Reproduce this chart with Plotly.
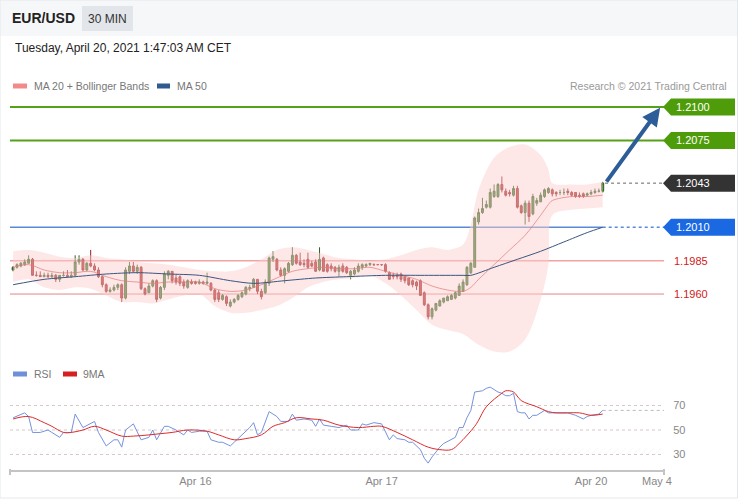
import plotly.graph_objects as go

# ---------------- data ----------------
BAR_INDEX = list(range(153))
OPEN = [1.1978,1.1980,1.1981,1.1982,1.1983,1.1986,1.1974,1.1974,1.1973,1.1974,
        1.1973,1.1974,1.1971,1.1974,1.1974,1.1973,1.1974,1.1984,1.1986,1.1978,
        1.1983,1.1981,1.1978,1.1973,1.1967,1.1962,1.1963,1.1965,1.1967,1.1957,
        1.1977,1.1981,1.1977,1.1980,1.1964,1.1961,1.1966,1.1970,1.1957,1.1965,
        1.1974,1.1977,1.1972,1.1973,1.1969,1.1965,1.1969,1.1969,1.1968,1.1969,
        1.1968,1.1968,1.1963,1.1961,1.1956,1.1958,1.1951,1.1954,1.1956,1.1958,
        1.1960,1.1964,1.1965,1.1971,1.1962,1.1961,1.1968,1.1986,1.1986,1.1978,
        1.1974,1.1977,1.1982,1.1989,1.1984,1.1983,1.1986,1.1983,1.1984,1.1978,
        1.1987,1.1982,1.1981,1.1980,1.1977,1.1981,1.1980,1.1974,1.1975,1.1977,
        1.1980,1.1981,1.1982,1.1982,1.1982,1.1982,1.1982,1.1976,1.1974,1.1974,
        1.1975,1.1973,1.1972,1.1970,1.1969,1.1970,1.1961,1.1952,1.1943,1.1948,
        1.1951,1.1954,1.1955,1.1956,1.1957,1.1959,1.1962,1.1967,1.1976,1.1980,
        1.2014,1.2021,1.2025,1.2025,1.2033,1.2033,1.2042,1.2037,1.2036,1.2034,
        1.2039,1.2026,1.2021,1.2028,1.2020,1.2028,1.2029,1.2033,1.2036,1.2038,
        1.2036,1.2036,1.2036,1.2037,1.2036,1.2036,1.2034,1.2035,1.2034,1.2035,
        1.2036,1.2037,1.2037]
HIGH = [1.1981,1.1983,1.1984,1.1986,1.1989,1.1987,1.1977,1.1977,1.1976,1.1976,
        1.1976,1.1975,1.1974,1.1977,1.1978,1.1977,1.1989,1.1989,1.1987,1.1984,
        1.1993,1.1983,1.1980,1.1974,1.1968,1.1965,1.1967,1.1968,1.1968,1.1980,
        1.1984,1.1984,1.1982,1.1981,1.1965,1.1968,1.1971,1.1971,1.1966,1.1977,
        1.1978,1.1977,1.1975,1.1974,1.1971,1.1971,1.1971,1.1970,1.1971,1.1970,
        1.1976,1.1969,1.1964,1.1963,1.1960,1.1959,1.1956,1.1957,1.1960,1.1962,
        1.1966,1.1967,1.1972,1.1971,1.1964,1.1971,1.1988,1.1992,1.1987,1.1980,
        1.1980,1.1984,1.1995,1.1990,1.1991,1.1986,1.1991,1.1985,1.1986,1.1995,
        1.1988,1.1983,1.1983,1.1981,1.1982,1.1983,1.1981,1.1978,1.1980,1.1983,
        1.1983,1.1983,1.1983,1.1983,1.1982,1.1982,1.1983,1.1977,1.1976,1.1976,
        1.1976,1.1974,1.1972,1.1971,1.1970,1.1971,1.1962,1.1953,1.1950,1.1953,
        1.1956,1.1957,1.1959,1.1960,1.1962,1.1968,1.1971,1.1981,1.1984,1.2018,
        1.2024,1.2032,1.2030,1.2039,1.2042,1.2043,1.2048,1.2039,1.2038,1.2041,
        1.2041,1.2027,1.2030,1.2030,1.2035,1.2032,1.2036,1.2039,1.2040,1.2039,
        1.2037,1.2038,1.2039,1.2039,1.2037,1.2036,1.2036,1.2036,1.2036,1.2038,
        1.2039,1.2039,1.2044]
LOW = [1.1977,1.1979,1.1980,1.1981,1.1983,1.1974,1.1973,1.1973,1.1973,1.1972,
       1.1972,1.1969,1.1969,1.1973,1.1973,1.1972,1.1973,1.1982,1.1977,1.1977,
       1.1980,1.1977,1.1972,1.1965,1.1961,1.1961,1.1962,1.1963,1.1954,1.1956,
       1.1975,1.1976,1.1975,1.1963,1.1959,1.1961,1.1965,1.1954,1.1956,1.1963,
       1.1971,1.1968,1.1967,1.1966,1.1964,1.1964,1.1967,1.1967,1.1967,1.1967,
       1.1967,1.1962,1.1954,1.1954,1.1955,1.1951,1.1950,1.1953,1.1955,1.1957,
       1.1959,1.1962,1.1965,1.1960,1.1956,1.1960,1.1966,1.1984,1.1977,1.1973,
       1.1968,1.1976,1.1981,1.1982,1.1981,1.1980,1.1979,1.1980,1.1977,1.1977,
       1.1977,1.1976,1.1977,1.1976,1.1973,1.1976,1.1975,1.1971,1.1974,1.1976,
       1.1978,1.1980,1.1981,1.1981,1.1982,1.1981,1.1976,1.1971,1.1971,1.1971,
       1.1969,1.1968,1.1966,1.1965,1.1963,1.1959,1.1951,1.1941,1.1941,1.1947,
       1.1951,1.1953,1.1955,1.1956,1.1956,1.1959,1.1962,1.1966,1.1975,1.1980,
       1.2012,1.2020,1.2024,1.2024,1.2032,1.2032,1.2036,1.2033,1.2033,1.2033,
       1.2024,1.2020,1.2012,1.2014,1.2019,1.2026,1.2029,1.2032,1.2035,1.2033,
       1.2033,1.2034,1.2034,1.2034,1.2033,1.2032,1.2032,1.2032,1.2033,1.2034,
       1.2035,1.2036,1.2036]
CLOSE = [1.1980,1.1982,1.1983,1.1984,1.1986,1.1974,1.1974,1.1973,1.1974,1.1973,
         1.1974,1.1971,1.1974,1.1974,1.1973,1.1974,1.1984,1.1986,1.1978,1.1983,
         1.1981,1.1978,1.1973,1.1967,1.1962,1.1963,1.1965,1.1967,1.1957,1.1978,
         1.1981,1.1977,1.1980,1.1964,1.1960,1.1966,1.1970,1.1956,1.1965,1.1975,
         1.1977,1.1970,1.1969,1.1968,1.1966,1.1970,1.1968,1.1968,1.1969,1.1968,
         1.1969,1.1963,1.1956,1.1956,1.1959,1.1953,1.1954,1.1956,1.1959,1.1961,
         1.1965,1.1965,1.1971,1.1962,1.1958,1.1969,1.1987,1.1988,1.1978,1.1974,
         1.1979,1.1983,1.1989,1.1983,1.1982,1.1982,1.1980,1.1981,1.1977,1.1986,
         1.1977,1.1977,1.1979,1.1977,1.1980,1.1977,1.1976,1.1977,1.1978,1.1981,
         1.1982,1.1982,1.1983,1.1982,1.1982,1.1982,1.1977,1.1971,1.1973,1.1973,
         1.1971,1.1970,1.1967,1.1967,1.1966,1.1959,1.1952,1.1943,1.1949,1.1953,
         1.1955,1.1957,1.1958,1.1959,1.1961,1.1966,1.1969,1.1980,1.1983,1.2017,
         1.2021,1.2024,1.2027,1.2036,1.2037,1.2042,1.2038,1.2034,1.2035,1.2039,
         1.2025,1.2021,1.2028,1.2018,1.2033,1.2030,1.2034,1.2038,1.2039,1.2035,
         1.2035,1.2036,1.2036,1.2036,1.2034,1.2033,1.2033,1.2033,1.2035,1.2036,
         1.2037,1.2037,1.2043]

BB_IDX = [0,4,8,12,16,20,24,28,32,36,40,44,48,52,56,60,64,68,72,76,
          80,84,88,92,96,100,104,108,112,116,118,120,124,128,132,136,138,139,144,148,152]
BB_UPPER = [1.1992,1.1993,1.1991,1.1988,1.1987,1.1989,1.1987,1.1986,1.1984,1.1983,
            1.1982,1.1980,1.1978,1.1977,1.1977,1.1980,1.1986,1.1993,1.1995,1.1993,
            1.1990,1.1987,1.1986,1.1985,1.1986,1.1989,1.1993,1.1995,1.1993,1.1997,
            1.2012,1.2038,1.2062,1.2070,1.2072,1.2064,1.2053,1.2043,1.2042,1.2042,1.2044]
BB_LOWER = [1.1969,1.1971,1.1965,1.1963,1.1965,1.1964,1.1959,1.1954,1.1954,1.1953,
            1.1956,1.1959,1.1960,1.1951,1.1946,1.1946,1.1948,1.1951,1.1957,1.1965,
            1.1969,1.1971,1.1972,1.1974,1.1968,1.1959,1.1948,1.1937,1.1933,1.1930,
            1.1926,1.1922,1.1917,1.1917,1.1926,1.1956,1.1982,1.2019,1.2023,1.2024,1.2025]
MA20 = [1.1980,1.1982,1.1978,1.1976,1.1976,1.1977,1.1973,1.1970,1.1969,1.1968,
        1.1969,1.1969,1.1969,1.1964,1.1962,1.1963,1.1967,1.1972,1.1977,1.1979,
        1.1980,1.1979,1.1979,1.1980,1.1977,1.1974,1.1971,1.1966,1.1963,1.1962,
        1.1965,1.1971,1.1982,1.1993,1.2004,1.2019,1.2027,1.2030,1.2033,1.2033,1.2034]

MA50_IDX = [0,8,16,24,32,40,48,56,62,70,78,86,96,106,116,118,124,130,136,142,148,152]
MA50 = [1.1967,1.1971,1.1973,1.1975,1.1976,1.1975,1.1974,1.1970,1.1968,1.1970,1.1972,
        1.1973,1.1974,1.1974,1.1974,1.1974,1.1980,1.1986,1.1992,1.1999,1.2006,1.2010]

RSI_IDX = [0,3,4,5,7,9,10,12,13,15,16,18,21,22,24,26,27,28,29,31,33,35,36,37,39,40,42,44,45,46,
           48,50,51,53,54,56,57,59,61,62,63,64,66,68,69,71,72,73,75,77,78,79,80,82,84,86,87,89,90,91,
           93,95,97,98,99,101,102,103,105,106,107,108,110,111,113,114,115,116,117,118,
           119,121,122,123,125,126,127,128,129,130,131,132,133,134,135,137,138,141,143,145,147,148,149,151,152]
RSI = [60,64,61,48,48,50,48,44,48,48,63,52,57,48,37,42,42,36,50,55,42,44,50,42,53,53,50,46,50,48,
       49,49,42,40,40,37,40,46,52,56,46,48,65,61,57,57,63,58,59,58,53,59,54,53,52,54,50,50,55,54,
       56,55,42,46,43,42,40,40,34,27,23,28,36,39,42,44,52,52,60,66,
       81,82,84,85,81,80,78,78,80,65,64,64,59,62,62,66,64,64,64,62,59,61,62,63,66]

RSI_MA_IDX = [0,4,8,10,13,15,18,21,24,28,31,35,38,41,45,50,53,57,60,64,67,70,73,77,80,84,89,93,95,99,
              103,107,110,113,115,119,120,122,126,127,129,131,135,138,140,143,146,149,152]
RSI_MA = [59,61,56,53,48,48,50,53,50,45,45,46,47,48,50,49,46,42,43,46,53,56,60,59,58,54,52,53,53,48,
          42,36,34,34,39,53,58,69,80,82,81,74,69,65,64,64,64,62,63]

LEVELS = [1.2100, 1.2075, 1.2043, 1.2010, 1.1985, 1.1960]
LEVEL_TEXT = ["1.2100", "1.2075", "1.2043", "1.2010", "1.1985", "1.1960"]
LAST_PRICE = 1.2043
LAST_MA50 = 1.2010
LAST_RSI = 66
ARROW_FROM = (152.7, 1.2043)
ARROW_TO = (166.8, 1.20995)

TICK_POS = [47, 95, 149, 166]
TICK_LABELS = ["Apr 16", "Apr 17", "Apr 20", "May 4"]
RSI_TICKS = [30, 50, 70]

# ---------------- layout helpers ----------------
W, H = 738, 500
FONT = "Liberation Sans, Arial, sans-serif"


def px(x):
    return x / W


def py(y):
    return 1 - y / H


XL, XR = 10, 664
XMIN, XMAX = -0.8, 167.8
P_RANGE = [1.191213, 1.210898]
R_RANGE = [17.35, 86.73]

fig = go.Figure()

# Bollinger bands
fig.add_trace(go.Scatter(x=BB_IDX, y=BB_UPPER, mode="lines",
                         line=dict(width=0, shape="spline", smoothing=0.9),
                         hoverinfo="skip", showlegend=False))
fig.add_trace(go.Scatter(x=BB_IDX, y=BB_LOWER, mode="lines",
                         line=dict(width=0, shape="spline", smoothing=0.9),
                         fill="tonexty", fillcolor="rgba(252,205,205,0.48)",
                         hoverinfo="skip", showlegend=False))
fig.add_trace(go.Scatter(x=BB_IDX, y=MA20, mode="lines",
                         line=dict(width=1, color="rgba(226,120,120,0.7)", shape="spline", smoothing=0.9),
                         hoverinfo="skip", showlegend=False))
fig.add_trace(go.Scatter(x=MA50_IDX, y=MA50, mode="lines",
                         line=dict(width=1, color="#3a5680", shape="spline", smoothing=0.8),
                         hoverinfo="skip", showlegend=False))

fig.add_trace(go.Candlestick(
    x=BAR_INDEX, open=OPEN, high=HIGH, low=LOW, close=CLOSE,
    increasing=dict(line=dict(color="#2f5f22", width=1), fillcolor="#3e8a2c"),
    decreasing=dict(line=dict(color="#8e1d1d", width=1), fillcolor="#d12b2b"),
    whiskerwidth=0, showlegend=False, hoverinfo="skip"))

# RSI panel
fig.add_trace(go.Scatter(x=[XMIN, XMAX, XMAX, XMIN], y=[30, 30, 35.5, 35.5], mode="lines",
                         line=dict(width=0), fill="toself", fillcolor="rgba(0,0,0,0)",
                         fillpattern=dict(shape="/", fgcolor="#e6e6e6", size=5, solidity=0.15),
                         xaxis="x2", yaxis="y2", hoverinfo="skip", showlegend=False))
fig.add_trace(go.Scatter(x=RSI_IDX, y=RSI, mode="lines", line=dict(width=1, color="#7592dc"),
                         xaxis="x2", yaxis="y2", hoverinfo="skip", showlegend=False))
fig.add_trace(go.Scatter(x=RSI_MA_IDX, y=RSI_MA, mode="lines",
                         line=dict(width=1, color="#dd2b2b", shape="spline", smoothing=1.0),
                         xaxis="x2", yaxis="y2", hoverinfo="skip", showlegend=False))

shapes = []
# header band
shapes.append(dict(type="rect", xref="paper", yref="paper", x0=0, x1=1, y0=py(36), y1=1,
                   fillcolor="#f6f7f8", line=dict(width=0), layer="below"))
shapes.append(dict(type="rect", xref="paper", yref="paper", x0=px(82), x1=px(133), y0=py(31), y1=py(6),
                   fillcolor="#e2e5e9", line=dict(width=0), layer="below"))
# outer border
shapes.append(dict(type="rect", xref="paper", yref="paper", x0=0, x1=0.9993, y0=0.004, y1=1,
                   fillcolor="rgba(0,0,0,0)", line=dict(width=1, color="#e4e8ec")))

# level lines
line_styles = {
    0: dict(color="#56a11a", width=2),
    1: dict(color="#56a11a", width=2),
    4: dict(color="#f2a2a2", width=1.5),
    5: dict(color="#e48585", width=1),
}
for k, st in line_styles.items():
    shapes.append(dict(type="line", xref="x", yref="y", x0=XMIN, x1=XMAX, y0=LEVELS[k], y1=LEVELS[k],
                       line=st, layer="below"))
shapes.append(dict(type="line", xref="x", yref="y", x0=XMIN, x1=152, y0=LAST_MA50, y1=LAST_MA50,
                   line=dict(color="#5a8ad6", width=1.5), layer="below"))
shapes.append(dict(type="line", xref="x", yref="y", x0=152, x1=XMAX, y0=LAST_MA50, y1=LAST_MA50,
                   line=dict(color="#5a8ad6", width=1.5, dash="dot"), layer="below"))
shapes.append(dict(type="line", xref="x", yref="y", x0=152.6, x1=XMAX, y0=LAST_PRICE, y1=LAST_PRICE,
                   line=dict(color="#666666", width=1, dash="dot")))

# tags
tag_colors = {0: "#4f9c0b", 1: "#4f9c0b", 2: "#333333", 3: "#1a68e2"}
annotations = []
for k, col in tag_colors.items():
    shapes.append(dict(type="path", xref="paper", yref="y", xsizemode="pixel", ysizemode="pixel",
                       xanchor=px(663), yanchor=LEVELS[k],
                       path="M0,0 L8,8.5 L72,8.5 L72,-8.5 L8,-8.5 Z",
                       fillcolor=col, line=dict(width=0)))
    annotations.append(dict(xref="paper", yref="y", x=px(674), y=LEVELS[k], text=LEVEL_TEXT[k],
                            showarrow=False, xanchor="left", yanchor="middle",
                            font=dict(family=FONT, size=11, color="white")))
for k in (4, 5):
    annotations.append(dict(xref="paper", yref="y", x=px(672), y=LEVELS[k], text=LEVEL_TEXT[k],
                            showarrow=False, xanchor="left", yanchor="middle",
                            font=dict(family=FONT, size=11, color="#d02020")))

# RSI guide lines
for v in RSI_TICKS:
    shapes.append(dict(type="line", xref="x2", yref="y2", x0=XMIN, x1=XMAX, y0=v, y1=v,
                       line=dict(color="#d8c8c8", width=1, dash="dot"), layer="below"))
shapes.append(dict(type="line", xref="x2", yref="y2", x0=152, x1=XMAX, y0=LAST_RSI, y1=LAST_RSI,
                   line=dict(color="#bbbbbb", width=1, dash="dot"), layer="below"))
# axis end ticks
for xe in (XL, XR):
    shapes.append(dict(type="line", xref="paper", yref="paper", x0=px(xe), x1=px(xe), y0=py(469), y1=py(475),
                       line=dict(color="#c4c4c4", width=2)))

# legend swatches
for (x0, x1, y, col) in [(13, 27, 86, "#f28a8a"), (157, 170, 86, "#2f5b8f"),
                         (13, 27, 374, "#6f8fd8"), (63, 77, 374, "#d62020")]:
    shapes.append(dict(type="rect", xref="paper", yref="paper", x0=px(x0), x1=px(x1),
                       y0=py(y + 2.5), y1=py(y - 2.5), fillcolor=col, line=dict(width=0)))

# arrow
annotations.append(dict(x=ARROW_TO[0], y=ARROW_TO[1], ax=ARROW_FROM[0], ay=ARROW_FROM[1],
                        xref="x", yref="y", axref="x", ayref="y", text="", showarrow=True,
                        arrowhead=2, arrowsize=0.9, arrowwidth=4, arrowcolor="#2d5d99"))


def txt(x, y, s, size, color, bold=False, anchor="left"):
    annotations.append(dict(xref="paper", yref="paper", x=px(x), y=py(y), text=("<b>%s</b>" % s) if bold else s,
                            showarrow=False, xanchor=anchor, yanchor="middle",
                            font=dict(family=FONT, size=size, color=color)))


txt(10, 18, "EUR/USD", 14, "#222222", bold=True)
txt(107.5, 18.5, "30 MIN", 12, "#333333", anchor="center")
txt(13, 48, "Tuesday, April 20, 2021 1:47:03 AM CET", 12, "#222222")
txt(32, 86, "MA 20 + Bollinger Bands", 10.5, "#777777")
txt(175, 86, "MA 50", 10.5, "#777777")
txt(729, 86, "Research © 2021 Trading Central", 10.5, "#999999", anchor="right")
txt(32, 374, "RSI", 10.5, "#777777")
txt(81, 374, "9MA", 10.5, "#777777")

fig.update_layout(
    width=W, height=H, autosize=False, margin=dict(l=0, r=0, t=0, b=0, pad=0),
    paper_bgcolor="white", plot_bgcolor="rgba(0,0,0,0)",
    showlegend=False, hovermode=False,
    font=dict(family=FONT),
    xaxis=dict(domain=[px(XL), px(XR)], range=[XMIN, XMAX], visible=False, anchor="y",
               automargin=False, rangeslider=dict(visible=False), fixedrange=True),
    yaxis=dict(domain=[py(358), py(95)], range=P_RANGE, visible=False, anchor="x",
               automargin=False, fixedrange=True),
    xaxis2=dict(domain=[px(XL), px(XR)], range=[XMIN, XMAX], anchor="y2", showline=True,
                linecolor="#c4c4c4", linewidth=2, showgrid=False, zeroline=False, automargin=False,
                tickvals=TICK_POS, ticktext=TICK_LABELS, ticks="",
                tickfont=dict(family=FONT, size=11, color="#888888"),
                rangeslider=dict(visible=False), fixedrange=True),
    yaxis2=dict(domain=[py(470), py(385)], range=R_RANGE, anchor="x2", side="right",
                tickvals=RSI_TICKS, showgrid=False, zeroline=False, showline=False, automargin=False,
                ticks="outside", ticklen=6, tickcolor="rgba(0,0,0,0)",
                tickfont=dict(family=FONT, size=11, color="#888888"), fixedrange=True),
    shapes=shapes, annotations=annotations,
)

POST = (
    "document.documentElement.style.overflow='hidden';"
    "document.body.style.margin='0';"
    "document.body.style.overflow='hidden';"
)

fig.write_html("out.html", config={"displayModeBar": False}, post_script=POST)
